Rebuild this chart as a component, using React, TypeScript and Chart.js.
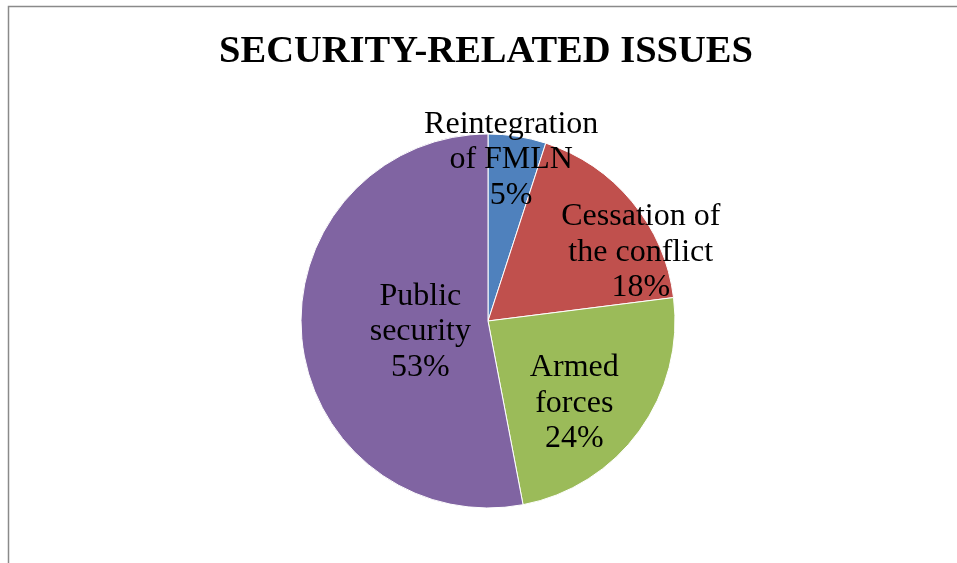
import React, { useEffect, useRef } from "react";
import { Chart, registerables } from "chart.js";

Chart.register(...registerables);

const TITLE = "SECURITY-RELATED ISSUES";
const categories = ["Reintegration of FMLN", "Cessation of the conflict", "Armed forces", "Public security"];
const labelLines = [
  ["Reintegration", "of FMLN"],
  ["Cessation of", "the conflict"],
  ["Armed", "forces"],
  ["Public", "security"],
];
const values = [5, 18, 24, 53];
const colors = ["#4F81BD", "#C0504D", "#9BBB59", "#8064A2"];

// label placement relative to each arc: fraction of radius and angle shift (deg)
const labelPlacement = [
  { frac: 0.88, shift: -0.9 },
  { frac: 0.9, shift: 14.8 },
  { frac: 0.63, shift: 6.9 },
  { frac: 0.365, shift: -2.2 },
];

const W = 957;
const H = 563;

const framePlugin = {
  id: "frame",
  beforeDraw(chart: any) {
    const ctx = chart.ctx;
    ctx.save();
    ctx.fillStyle = "#ffffff";
    ctx.fillRect(0, 0, chart.width, chart.height);
    ctx.strokeStyle = "#8a8a8a";
    ctx.lineWidth = 1.5;
    ctx.beginPath();
    ctx.moveTo(8.5, chart.height);
    ctx.lineTo(8.5, 6.5);
    ctx.lineTo(chart.width, 6.5);
    ctx.stroke();
    ctx.restore();
  },
  afterDraw(chart: any) {
    const ctx = chart.ctx;
    ctx.save();
    ctx.fillStyle = "#000";
    ctx.font = "bold 38.5px 'Liberation Serif', 'Times New Roman', serif";
    ctx.textAlign = "center";
    ctx.textBaseline = "middle";
    ctx.fillText(TITLE, 486, 52);

    const meta = chart.getDatasetMeta(0);
    const total = values.reduce((a, b) => a + b, 0);
    ctx.font = "32px 'Liberation Serif', 'Times New Roman', serif";
    meta.data.forEach((arc: any, i: number) => {
      const { x, y, startAngle, endAngle, outerRadius } = arc.getProps(
        ["x", "y", "startAngle", "endAngle", "outerRadius"],
        true
      );
      const p = labelPlacement[i];
      const a = (startAngle + endAngle) / 2 + (p.shift * Math.PI) / 180;
      const cx = x + Math.cos(a) * outerRadius * p.frac;
      const cy = y + Math.sin(a) * outerRadius * p.frac;
      const pct = Math.round((values[i] / total) * 100) + "%";
      const lines = [...labelLines[i], pct];
      const lh = 35.5;
      lines.forEach((ln, k) => {
        ctx.fillText(ln, cx, cy + 2 + (k - (lines.length - 1) / 2) * lh);
      });
    });
    ctx.restore();
  },
};

export default function App() {
  const ref = useRef<HTMLCanvasElement>(null);
  useEffect(() => {
    if (!ref.current) return;
    const chart = new Chart(ref.current, {
      type: "pie",
      data: {
        labels: categories,
        datasets: [
          {
            data: values,
            backgroundColor: colors,
            borderColor: "#ffffff",
            borderWidth: 1,
          },
        ],
      },
      options: {
        responsive: false,
        animation: false,
        layout: { padding: { left: 300.5, right: 281.5, top: 133.5, bottom: 54.5 } },
        plugins: {
          legend: { display: false },
          title: { display: false },
          tooltip: { enabled: false },
        },
      },
      plugins: [framePlugin],
    });
    return () => chart.destroy();
  }, []);
  return (
    <div style={{ position: "absolute", left: 0, top: 0, width: W, height: H, background: "#fff" }}>
      <canvas ref={ref} width={W} height={H} style={{ width: W, height: H, display: "block" }} />
    </div>
  );
}
